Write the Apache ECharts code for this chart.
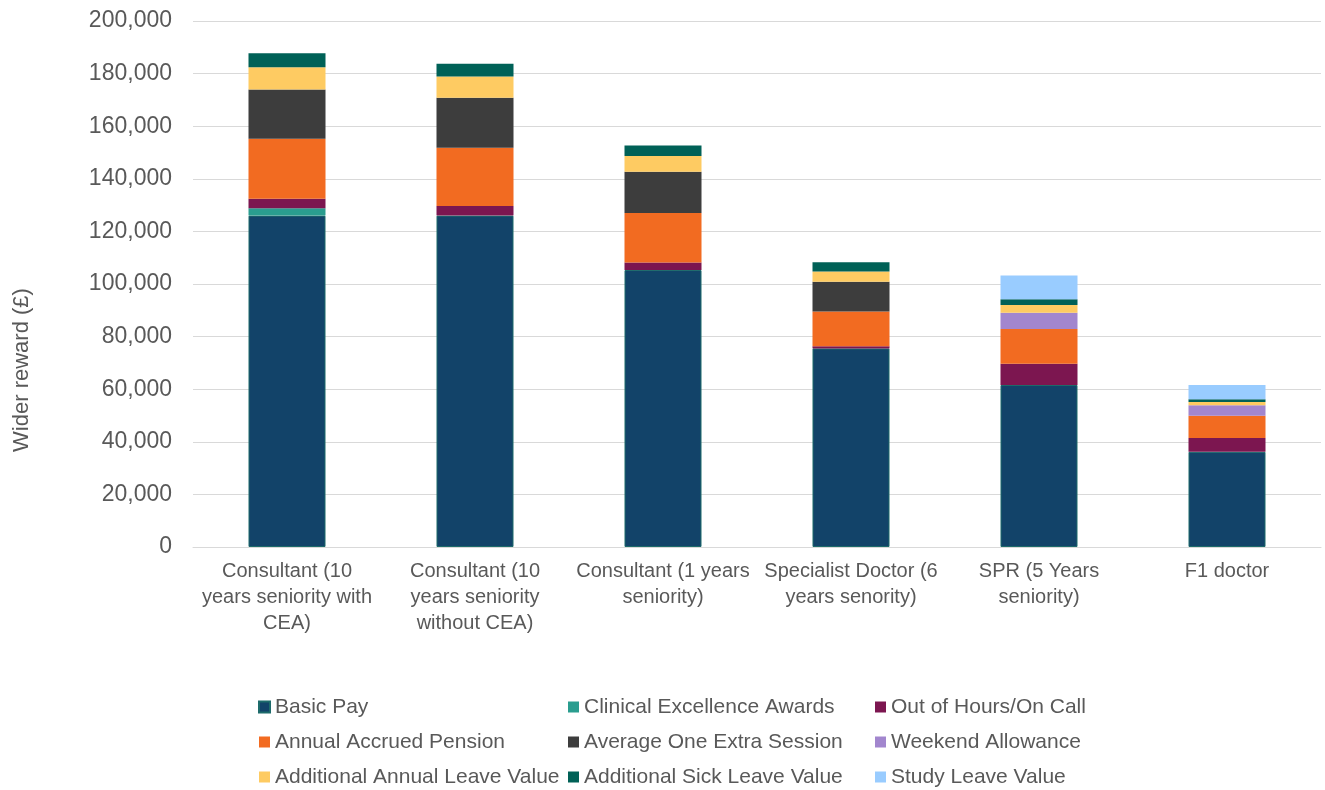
<!DOCTYPE html>
<html><head><meta charset="utf-8">
<script src="https://cdn.jsdelivr.net/npm/echarts@6/dist/echarts.min.js"></script>
<style>html,body{margin:0;padding:0;background:#fff}#c{width:1325px;height:790px}</style>
</head><body><div id="c"></div>
<script>
const categories = [
  'Consultant (10\nyears seniority with\nCEA)',
  'Consultant (10\nyears seniority\nwithout CEA)',
  'Consultant (1 years\nseniority)',
  'Specialist Doctor (6\nyears senority)',
  'SPR (5 Years\nseniority)',
  'F1 doctor'
];
const basicPay        = [126000, 126000, 105300, 75500, 61600, 36200];
const clinicalAwards  = [2800, 0, 0, 0, 0, 0];
const outOfHours      = [3600, 3700, 2900, 800, 8100, 5200];
const pension         = [22800, 22100, 18800, 13200, 13200, 8500];
const extraSession    = [18800, 19000, 15700, 11400, 0, 0];
const weekendAllow    = [0, 0, 0, 0, 6200, 4000];
const annualLeave     = [8400, 8100, 6000, 3900, 2900, 1200];
const sickLeave       = [5300, 4800, 4000, 3500, 2200, 1100];
const studyLeave      = [0, 0, 0, 0, 9000, 5400];
const yTicks = [0, 20000, 40000, 60000, 80000, 100000, 120000, 140000, 160000, 180000, 200000];

const seriesDefs = [
  ['Basic Pay', basicPay, '#124369'],
  ['Clinical Excellence Awards', clinicalAwards, '#2a9d8f'],
  ['Out of Hours/On Call', outOfHours, '#7c1650'],
  ['Annual Accrued Pension', pension, '#f26b21'],
  ['Average One Extra Session', extraSession, '#3d3d3d'],
  ['Weekend Allowance', weekendAllow, '#a286ce'],
  ['Additional Annual Leave Value', annualLeave, '#fecb62'],
  ['Additional Sick Leave Value', sickLeave, '#006157'],
  ['Study Leave Value', studyLeave, '#99ccff']
];
const font = 'Liberation Sans, Arial, sans-serif';
const txt = '#595959';
const chart = echarts.init(document.getElementById('c'));
const legendCols = [
  ['Basic Pay', 'Annual Accrued Pension', 'Additional Annual Leave Value'],
  ['Clinical Excellence Awards', 'Average One Extra Session', 'Additional Sick Leave Value'],
  ['Out of Hours/On Call', 'Weekend Allowance', 'Study Leave Value']
];
const legendLefts = [258, 568, 875];
chart.setOption({
  animation: false,
  textStyle: {fontFamily: font},
  grid: {left: 193, right: 4, top: 21, bottom: 243, containLabel: false},
  legend: legendCols.map((d, i) => ({
    data: d, orient: 'vertical', left: legendLefts[i], top: 696, padding: 0,
    icon: 'rect', itemWidth: 11, itemHeight: 11, itemGap: 13,
    textStyle: {fontSize: 21, color: txt, fontFamily: font, lineHeight: 22}
  })),
  xAxis: {
    type: 'category', data: categories,
    axisLine: {lineStyle: {color: '#d9d9d9'}},
    axisTick: {show: false},
    axisLabel: {fontSize: 20, color: txt, lineHeight: 26, margin: 11, interval: 0}
  },
  yAxis: {
    type: 'value', min: yTicks[0], max: yTicks[yTicks.length - 1], interval: 20000,
    name: 'Wider reward (£)', nameLocation: 'middle', nameGap: 160,
    nameTextStyle: {fontSize: 22, color: txt, padding: [0, 172, 0, 0]},
    axisLine: {show: false}, axisTick: {show: false},
    axisLabel: {fontSize: 23, color: txt, margin: 21,
      formatter: v => v.toLocaleString('en-GB')},
    splitLine: {lineStyle: {color: '#d9d9d9', width: 1}}
  },
  series: seriesDefs.map(([name, data, color], i) => ({
    name, type: 'bar', stack: 'total', data, barWidth: 77,
    itemStyle: i === 0 ? {color, borderColor: '#1d6b6b', borderWidth: 1} : {color}
  }))
});
</script></body></html>
